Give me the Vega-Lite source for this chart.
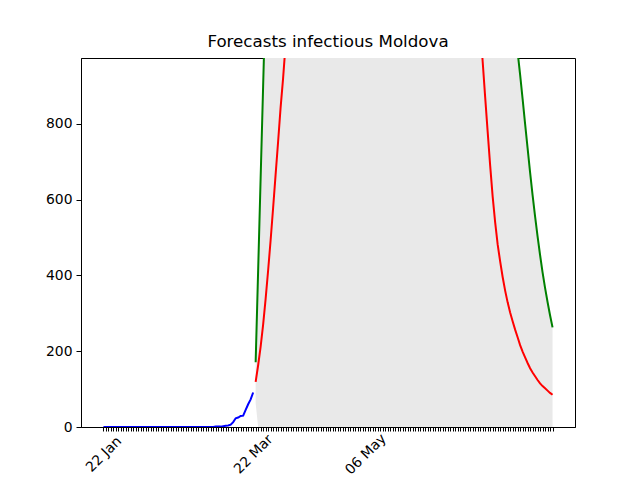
{
  "$schema": "https://vega.github.io/schema/vega-lite/v6.json",
  "autosize": "none",
  "width": 494,
  "height": 369,
  "padding": {"left": 81, "top": 58, "right": 65, "bottom": 53},
  "background": "white",
  "config": {
    "font": "DejaVu Sans",
    "view": {"stroke": "black", "strokeWidth": 1},
    "axis": {"domainColor": "black", "tickColor": "black", "labelColor": "black", "labelFont": "DejaVu Sans", "labelFontSize": 13.9, "grid": false, "title": null, "tickSize": 5, "domainWidth": 1, "tickWidth": 1}
  },
  "title": {"text": "Forecasts infectious Moldova", "font": "DejaVu Sans", "fontSize": 16.7, "fontWeight": "normal", "color": "black", "anchor": "middle", "offset": 7},
  "datasets": {
    "actual": [
      {"d":"2020-01-22","v":0},{"d":"2020-01-23","v":0},{"d":"2020-01-24","v":0},{"d":"2020-01-25","v":0},{"d":"2020-01-26","v":0},{"d":"2020-01-27","v":0},{"d":"2020-01-28","v":0},{"d":"2020-01-29","v":0},{"d":"2020-01-30","v":0},{"d":"2020-01-31","v":0},
      {"d":"2020-02-01","v":0},{"d":"2020-02-02","v":0},{"d":"2020-02-03","v":0},{"d":"2020-02-04","v":0},{"d":"2020-02-05","v":0},{"d":"2020-02-06","v":0},{"d":"2020-02-07","v":0},{"d":"2020-02-08","v":0},{"d":"2020-02-09","v":0},{"d":"2020-02-10","v":0},
      {"d":"2020-02-11","v":0},{"d":"2020-02-12","v":0},{"d":"2020-02-13","v":0},{"d":"2020-02-14","v":0},{"d":"2020-02-15","v":0},{"d":"2020-02-16","v":0},{"d":"2020-02-17","v":0},{"d":"2020-02-18","v":0},{"d":"2020-02-19","v":0},{"d":"2020-02-20","v":0},
      {"d":"2020-02-21","v":0},{"d":"2020-02-22","v":0},{"d":"2020-02-23","v":0},{"d":"2020-02-24","v":0},{"d":"2020-02-25","v":0},{"d":"2020-02-26","v":0},{"d":"2020-02-27","v":0},{"d":"2020-02-28","v":0},{"d":"2020-02-29","v":0},
      {"d":"2020-03-01","v":0},{"d":"2020-03-02","v":0},{"d":"2020-03-03","v":0},{"d":"2020-03-04","v":0},{"d":"2020-03-05","v":0},{"d":"2020-03-06","v":0},
      {"d":"2020-03-07","v":1},{"d":"2020-03-08","v":1},{"d":"2020-03-09","v":1},{"d":"2020-03-10","v":2},{"d":"2020-03-11","v":3},{"d":"2020-03-12","v":4},{"d":"2020-03-13","v":6},{"d":"2020-03-14","v":13},{"d":"2020-03-15","v":23},{"d":"2020-03-16","v":25},{"d":"2020-03-17","v":29},{"d":"2020-03-18","v":30},{"d":"2020-03-19","v":45},{"d":"2020-03-20","v":60},{"d":"2020-03-21","v":73},{"d":"2020-03-22","v":91}
    ],
    "forecast": [
      {"d":"2020-03-23","lo":63,"mid":119,"up":171},
      {"d":"2020-03-24","lo":0,"mid":163,"up":414},
      {"d":"2020-03-25","lo":0,"mid":212,"up":657},
      {"d":"2020-03-26","lo":0,"mid":270,"up":900},
      {"d":"2020-03-27","lo":0,"mid":338,"up":1143},
      {"d":"2020-03-28","lo":0,"mid":413,"up":1390},
      {"d":"2020-03-29","lo":0,"mid":493,"up":1640},
      {"d":"2020-03-30","lo":0,"mid":578,"up":1890},
      {"d":"2020-03-31","lo":0,"mid":666,"up":2140},
      {"d":"2020-04-01","lo":0,"mid":753,"up":2390},
      {"d":"2020-04-02","lo":0,"mid":843,"up":2630},
      {"d":"2020-04-03","lo":0,"mid":920,"up":2870},
      {"d":"2020-04-04","lo":0,"mid":1010,"up":3100},
      {"d":"2020-04-05","lo":0,"mid":1097,"up":3320},
      {"d":"2020-04-06","lo":0,"mid":1185,"up":3530},
      {"d":"2020-04-07","lo":0,"mid":1273,"up":3730},
      {"d":"2020-04-08","lo":0,"mid":1362,"up":3920},
      {"d":"2020-04-09","lo":0,"mid":1451,"up":4100},
      {"d":"2020-04-10","lo":0,"mid":1540,"up":4270},
      {"d":"2020-04-11","lo":0,"mid":1630,"up":4430},
      {"d":"2020-04-12","lo":0,"mid":1720,"up":4580},
      {"d":"2020-04-13","lo":0,"mid":1810,"up":4720},
      {"d":"2020-04-14","lo":0,"mid":1900,"up":4850},
      {"d":"2020-04-15","lo":0,"mid":1990,"up":4970},
      {"d":"2020-04-16","lo":0,"mid":2080,"up":5080},
      {"d":"2020-04-17","lo":0,"mid":2170,"up":5180},
      {"d":"2020-04-18","lo":0,"mid":2258,"up":5270},
      {"d":"2020-04-19","lo":0,"mid":2345,"up":5350},
      {"d":"2020-04-20","lo":0,"mid":2430,"up":5420},
      {"d":"2020-04-21","lo":0,"mid":2513,"up":5480},
      {"d":"2020-04-22","lo":0,"mid":2594,"up":5530},
      {"d":"2020-04-23","lo":0,"mid":2672,"up":5570},
      {"d":"2020-04-24","lo":0,"mid":2747,"up":5600},
      {"d":"2020-04-25","lo":0,"mid":2819,"up":5620},
      {"d":"2020-04-26","lo":0,"mid":2888,"up":5630},
      {"d":"2020-04-27","lo":0,"mid":2953,"up":5630},
      {"d":"2020-04-28","lo":0,"mid":3014,"up":5620},
      {"d":"2020-04-29","lo":0,"mid":3071,"up":5600},
      {"d":"2020-04-30","lo":0,"mid":3123,"up":5570},
      {"d":"2020-05-01","lo":0,"mid":3170,"up":5530},
      {"d":"2020-05-02","lo":0,"mid":3212,"up":5480},
      {"d":"2020-05-03","lo":0,"mid":3248,"up":5420},
      {"d":"2020-05-04","lo":0,"mid":3278,"up":5350},
      {"d":"2020-05-05","lo":0,"mid":3302,"up":5270},
      {"d":"2020-05-06","lo":0,"mid":3319,"up":5180},
      {"d":"2020-05-07","lo":0,"mid":3329,"up":5080},
      {"d":"2020-05-08","lo":0,"mid":3332,"up":4970},
      {"d":"2020-05-09","lo":0,"mid":3328,"up":4850},
      {"d":"2020-05-10","lo":0,"mid":3320,"up":4720},
      {"d":"2020-05-11","lo":0,"mid":3300,"up":4580},
      {"d":"2020-05-12","lo":0,"mid":3270,"up":4440},
      {"d":"2020-05-13","lo":0,"mid":3235,"up":4300},
      {"d":"2020-05-14","lo":0,"mid":3195,"up":4160},
      {"d":"2020-05-15","lo":0,"mid":3150,"up":4020},
      {"d":"2020-05-16","lo":0,"mid":3100,"up":3880},
      {"d":"2020-05-17","lo":0,"mid":3045,"up":3740},
      {"d":"2020-05-18","lo":0,"mid":2985,"up":3600},
      {"d":"2020-05-19","lo":0,"mid":2920,"up":3460},
      {"d":"2020-05-20","lo":0,"mid":2855,"up":3320},
      {"d":"2020-05-21","lo":0,"mid":2790,"up":3190},
      {"d":"2020-05-22","lo":0,"mid":2720,"up":3060},
      {"d":"2020-05-23","lo":0,"mid":2650,"up":2940},
      {"d":"2020-05-24","lo":0,"mid":2580,"up":2820},
      {"d":"2020-05-25","lo":0,"mid":2510,"up":2710},
      {"d":"2020-05-26","lo":0,"mid":2440,"up":2600},
      {"d":"2020-05-27","lo":0,"mid":2370,"up":2500},
      {"d":"2020-05-28","lo":0,"mid":2300,"up":2400},
      {"d":"2020-05-29","lo":0,"mid":2230,"up":2310},
      {"d":"2020-05-30","lo":0,"mid":2160,"up":2220},
      {"d":"2020-05-31","lo":0,"mid":2090,"up":2140},
      {"d":"2020-06-01","lo":0,"mid":2020,"up":2060},
      {"d":"2020-06-02","lo":0,"mid":1950,"up":1990},
      {"d":"2020-06-03","lo":0,"mid":1880,"up":1920},
      {"d":"2020-06-04","lo":0,"mid":1810,"up":1860},
      {"d":"2020-06-05","lo":0,"mid":1740,"up":1800},
      {"d":"2020-06-06","lo":0,"mid":1670,"up":1745},
      {"d":"2020-06-07","lo":0,"mid":1600,"up":1695},
      {"d":"2020-06-08","lo":0,"mid":1535,"up":1650},
      {"d":"2020-06-09","lo":0,"mid":1470,"up":1605},
      {"d":"2020-06-10","lo":0,"mid":1410,"up":1565},
      {"d":"2020-06-11","lo":0,"mid":1355,"up":1530},
      {"d":"2020-06-12","lo":0,"mid":1305,"up":1495},
      {"d":"2020-06-13","lo":0,"mid":1262,"up":1465},
      {"d":"2020-06-14","lo":0,"mid":1225,"up":1435},
      {"d":"2020-06-15","lo":0,"mid":1192,"up":1410},
      {"d":"2020-06-16","lo":0,"mid":1162,"up":1385},
      {"d":"2020-06-17","lo":0,"mid":1135,"up":1360},
      {"d":"2020-06-18","lo":0,"mid":1110,"up":1340},
      {"d":"2020-06-19","lo":0,"mid":1088,"up":1320},
      {"d":"2020-06-20","lo":0,"mid":1070,"up":1300},
      {"d":"2020-06-21","lo":0,"mid":1058,"up":1280},
      {"d":"2020-06-22","lo":0,"mid":964,"up":1262},
      {"d":"2020-06-23","lo":0,"mid":870,"up":1245},
      {"d":"2020-06-24","lo":0,"mid":779,"up":1228},
      {"d":"2020-06-25","lo":0,"mid":690,"up":1212},
      {"d":"2020-06-26","lo":0,"mid":608,"up":1196},
      {"d":"2020-06-27","lo":0,"mid":540,"up":1180},
      {"d":"2020-06-28","lo":0,"mid":482,"up":1165},
      {"d":"2020-06-29","lo":0,"mid":437,"up":1150},
      {"d":"2020-06-30","lo":0,"mid":396,"up":1136},
      {"d":"2020-07-01","lo":0,"mid":360,"up":1122},
      {"d":"2020-07-02","lo":0,"mid":329,"up":1108},
      {"d":"2020-07-03","lo":0,"mid":302,"up":1090},
      {"d":"2020-07-04","lo":0,"mid":279,"up":1068},
      {"d":"2020-07-05","lo":0,"mid":257,"up":1035},
      {"d":"2020-07-06","lo":0,"mid":237,"up":990},
      {"d":"2020-07-07","lo":0,"mid":216,"up":930},
      {"d":"2020-07-08","lo":0,"mid":199,"up":866},
      {"d":"2020-07-09","lo":0,"mid":184,"up":800},
      {"d":"2020-07-10","lo":0,"mid":169,"up":736},
      {"d":"2020-07-11","lo":0,"mid":155,"up":672},
      {"d":"2020-07-12","lo":0,"mid":144,"up":612},
      {"d":"2020-07-13","lo":0,"mid":134,"up":556},
      {"d":"2020-07-14","lo":0,"mid":124,"up":503},
      {"d":"2020-07-15","lo":0,"mid":115,"up":454},
      {"d":"2020-07-16","lo":0,"mid":108,"up":408},
      {"d":"2020-07-17","lo":0,"mid":102,"up":367},
      {"d":"2020-07-18","lo":0,"mid":96,"up":330},
      {"d":"2020-07-19","lo":0,"mid":90,"up":295},
      {"d":"2020-07-20","lo":0,"mid":85,"up":263}
    ]
  },
  "encoding": {
    "x": {
      "field": "d", "type": "temporal",
      "scale": {"type": "utc", "domain": [{"year": 2020, "month": 1, "date": 13, "utc": true}, {"year": 2020, "month": 7, "date": 29, "utc": true}], "nice": false},
      "axis": {
        "tickCount": {"interval": "day", "step": 1},
        "labelExpr": "indexof(['22 Jan','22 Mar','06 May'], utcFormat(datum.value, '%d %b')) >= 0 ? utcFormat(datum.value, '%d %b') : ''",
        "labelOverlap": false, "labelFlush": false, "labelBound": false,
        "labelAngle": -45, "labelAlign": "center", "labelBaseline": "middle", "labelPadding": 23,
        "tickSize": 4,
        "tickOpacity": {"condition": {"test": "datum.value < utc(2020,0,22) || datum.value > utc(2020,6,20)", "value": 0}, "value": 1}
      }
    }
  },
  "layer": [
    {
      "data": {"name": "forecast"},
      "mark": {"type": "area", "color": "#e9e9e9", "opacity": 1, "clip": true},
      "encoding": {
        "y": {"field": "lo", "type": "quantitative", "scale": {"domain": [0, 974], "nice": false, "zero": false}, "axis": {"values": [0, 200, 400, 600, 800], "labelPadding": 4}},
        "y2": {"field": "up"}
      }
    },
    {
      "data": {"name": "forecast"},
      "transform": [{"filter": "datum.d <= '2020-03-24'"}],
      "mark": {"type": "line", "color": "#008000", "strokeWidth": 2, "clip": true},
      "encoding": {"y": {"field": "lo", "type": "quantitative"}}
    },
    {
      "data": {"name": "forecast"},
      "mark": {"type": "line", "color": "#008000", "strokeWidth": 2, "clip": true},
      "encoding": {"y": {"field": "up", "type": "quantitative"}}
    },
    {
      "data": {"name": "forecast"},
      "mark": {"type": "line", "color": "#ff0000", "strokeWidth": 2, "clip": true},
      "encoding": {"y": {"field": "mid", "type": "quantitative"}}
    },
    {
      "data": {"name": "actual"},
      "mark": {"type": "line", "color": "#0000ff", "strokeWidth": 2, "clip": true},
      "encoding": {"y": {"field": "v", "type": "quantitative"}}
    }
  ]
}
